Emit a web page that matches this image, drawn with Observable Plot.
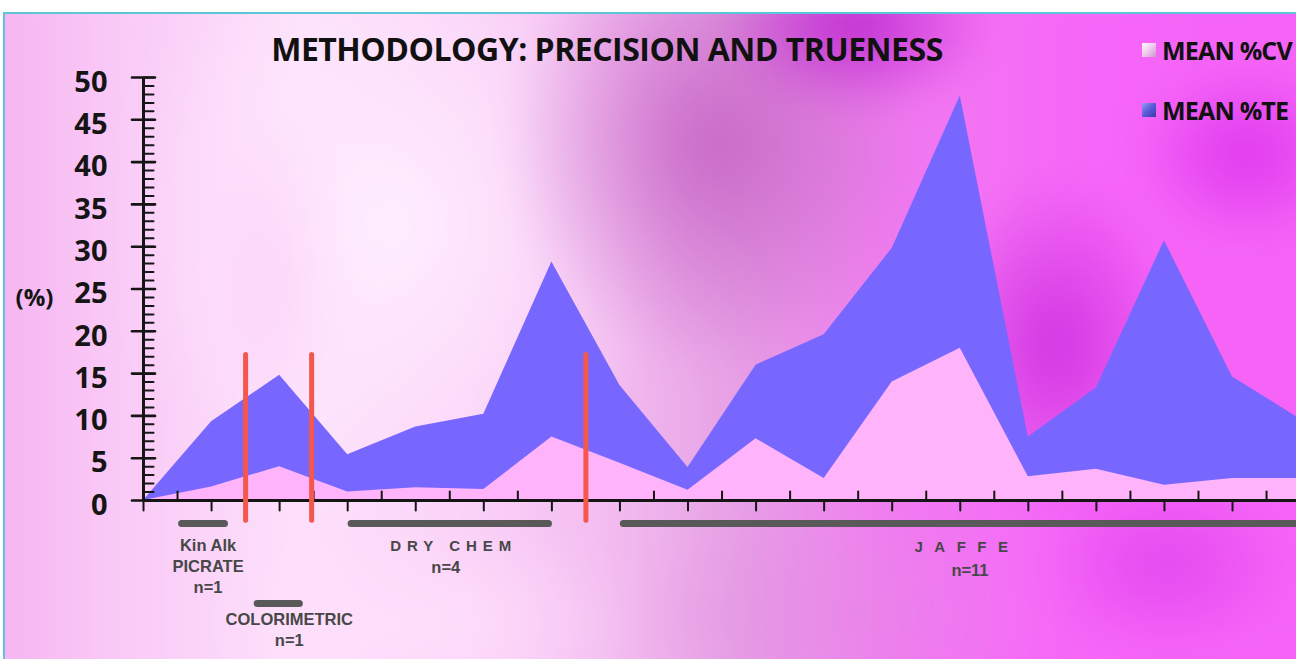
<!DOCTYPE html>
<html>
<head>
<meta charset="utf-8">
<script src="https://cdn.jsdelivr.net/npm/d3@7"></script>
<script src="https://cdn.jsdelivr.net/npm/@observablehq/plot@0.6"></script>
<style>
  html, body { margin: 0; padding: 0; background: #fff; overflow: hidden; }
  #wrap { position: relative; width: 1296px; height: 659px; overflow: hidden; background: #fff; }
  #frame { position: absolute; left: 3px; top: 12px; width: 1320px; height: 680px;
           border-left: 2px solid #5cc6d9; border-top: 2px solid #5cc6d9; overflow: hidden; }
  #bg { position: absolute; left: -40px; top: -40px; width: 1400px; height: 760px; filter: blur(18px);
    background:
      radial-gradient(140px 90px at 890px 50px, rgba(185,30,205,0.85), rgba(185,30,205,0)),
      radial-gradient(110px 90px at 1280px 180px, rgba(215,40,235,0.75), rgba(215,40,235,0)),
      radial-gradient(120px 170px at 1090px 370px, rgba(200,40,220,0.8), rgba(200,40,220,0)),
      radial-gradient(130px 90px at 1200px 590px, rgba(220,60,235,0.7), rgba(220,60,235,0)),
      radial-gradient(210px 230px at 750px 170px, rgba(195,95,195,0.85), rgba(195,95,195,0)),
      radial-gradient(200px 110px at 860px 640px, rgba(225,140,225,0.45), rgba(225,140,225,0)),
      radial-gradient(280px 320px at 430px 250px, rgba(255,238,255,0.95), rgba(255,238,255,0)),
      radial-gradient(220px 110px at 460px 650px, rgba(255,225,252,0.85), rgba(255,225,252,0)),
      radial-gradient(70px 160px at 315px 290px, rgba(246,170,238,0.7), rgba(246,170,238,0)),
      linear-gradient(to right, #f4aef0 0%, #f9c8f6 10%, #fde0fb 24%, #f9ccf6 38%, #f3bcf0 46%, #e6a0e4 55%, #f07cf0 66%, #f666f8 80%, #f462f6 100%);
  }
  #chart { position: absolute; left: 0; top: 0; }
  #title { position: absolute; left: 252px; top: 27px; width: 710px; text-align: center;
           font-family: "Open Sans", sans-serif; font-weight: 700; font-size: 32px; color: #111;
           letter-spacing: -0.5px; white-space: nowrap; }
  .leg { position: absolute; left: 1142px; font-family: "Open Sans", sans-serif; font-weight: 700;
         font-size: 25px; color: #111; white-space: nowrap; letter-spacing: -0.8px; }
  .leg span.sw { display: inline-block; width: 14px; height: 14px; margin-right: 6px; vertical-align: 3px; }
</style>
</head>
<body>
<div id="wrap">
  <div id="frame"><div id="bg"></div></div>
  <div id="chart"></div>
  <div id="title">METHODOLOGY: PRECISION AND TRUENESS</div>
  <div class="leg" style="top:33px"><span class="sw" style="background:linear-gradient(135deg,#fff 0%,#f0c8ee 50%,#c89ac8 100%)"></span>MEAN %CV</div>
  <div class="leg" style="top:93px"><span class="sw" style="background:linear-gradient(135deg,#9a9af0 0%,#5a5ad8 50%,#3a3aa8 100%)"></span>MEAN %TE</div>
</div>
<script>
// ---- data ----
const labs = d3.range(0, 18); // 0 = origin, 1..17 laboratories
const meanTE = [0, 9.3, 14.8, 5.4, 8.7, 10.2, 28.2, 13.6, 3.9, 16.0, 19.6, 29.8, 47.8, 7.5, 13.3, 30.7, 14.6, 9.6];
const meanCV = [0, 1.6, 4.0, 1.0, 1.5, 1.3, 7.5, 4.4, 1.2, 7.3, 2.6, 14.0, 18.0, 2.8, 3.7, 1.8, 2.6, 2.6];

const yTicks = d3.range(0, 51, 5);
const yMinorTicks = d3.range(0, 51, 1);
const xTicks = d3.range(0, 17);
const xMidTicks = d3.range(0.5, 17, 1);

// method groups (lab index ranges)
const groupNames = ["Kin Alk\nPICRATE\nn=1", "COLORIMETRIC\nn=1", "DRY CHEM", "JAFFE"];
const groupN = ["", "", "n=4", "n=11"];
const groupStart = [0.56, 1.67, 3.05, 7.05];
const groupEnd = [1.19, 2.29, 5.95, 17.5];
const separators = [1.5, 2.47, 6.5];

const rows = labs.map((i) => ({i, te: meanTE[i], cv: meanCV[i]}));

const line = {draw(context, l) { context.moveTo(0, 0); context.lineTo(0, -l); }};
const ink = "#151515";
const labelInk = "#474747";
const labelFont = "Liberation Sans, Arial, sans-serif";
const center = (k) => (groupStart[k] + Math.min(groupEnd[k], 17)) / 2;

const groupBar = (k, dy) => Plot.link([k], {
  x1: (d) => groupStart[d], x2: (d) => groupEnd[d], y1: 0, y2: 0, dy,
  stroke: "#595959", strokeWidth: 7, strokeLinecap: "round"
});
const groupText = (k, text, dy, dx, extra = {}) => Plot.text([k], {
  x: center, y: 0, text, dy, dx, lineAnchor: "top", fontSize: 16.5, fontWeight: 700,
  fontFamily: labelFont, fill: labelInk, lineHeight: 1.28, ...extra
});

const chart = Plot.plot({
  width: 1296,
  height: 659,
  marginLeft: 143,
  marginRight: 0,
  marginTop: 77,
  marginBottom: 159,
  style: {background: "transparent", overflow: "visible"},
  x: {domain: [0, 16.94], axis: null},
  y: {domain: [0, 50], axis: null},
  marks: [
    Plot.areaY(rows, {x: "i", y: "te", fill: "#7867ff", clip: true}),
    Plot.areaY(rows, {x: "i", y: "cv", fill: "#ffb3fa", clip: true}),
    // y axis
    Plot.ruleX([0], {y1: 0, y2: 50, stroke: ink, strokeWidth: 3}),
    Plot.vector(yMinorTicks, {x: 0, y: (d) => d, length: 10, rotate: 90, anchor: "start", shape: line, stroke: ink, strokeWidth: 2}),
    Plot.vector(yTicks, {x: 0, y: (d) => d, length: 23, rotate: 90, anchor: "middle", shape: line, stroke: ink, strokeWidth: 2.6}),
    Plot.text(yTicks, {x: 0, y: (d) => d, text: (d) => String(d), textAnchor: "end", dx: -36, dy: 5,
      fontSize: 29, fontWeight: 700, fontFamily: "Open Sans, sans-serif", fill: ink}),
    Plot.text(["(%)"], {x: 0, y: 25, text: (d) => d, textAnchor: "middle", dx: -109, dy: 9,
      fontSize: 24, fontWeight: 700, fontFamily: "Open Sans, sans-serif", fill: ink}),
    // x axis
    Plot.ruleY([0], {stroke: ink, strokeWidth: 3}),
    Plot.vector(xTicks, {x: (d) => d, y: 0, length: 10, rotate: 180, anchor: "start", shape: line, stroke: ink, strokeWidth: 2}),
    Plot.vector(xMidTicks, {x: (d) => d, y: 0, length: 9, rotate: 0, anchor: "start", shape: line, stroke: ink, strokeWidth: 2}),
    // method groups
    groupBar(0, 23), groupBar(1, 103), groupBar(2, 23), groupBar(3, 23),
    Plot.ruleX(separators, {y1: 17.2, y2: -2.4, stroke: "#f4584c", strokeWidth: 5, strokeLinecap: "round"}),
    groupText(0, (d) => groupNames[d], 35, 5),
    groupText(1, (d) => groupNames[d], 109, 11),
    groupText(2, (d) => groupNames[d], 37, 4, {fontSize: 15}),
    groupText(2, (d) => groupN[d], 57, -4),
    groupText(3, (d) => groupNames[d], 38, 5, {fontSize: 15}),
    groupText(3, (d) => groupN[d], 60, 8)
  ]
});

d3.select(chart).selectAll("text")
  .filter(function () { return this.textContent === "DRY CHEM"; })
  .attr("letter-spacing", "6px");
d3.select(chart).selectAll("text")
  .filter(function () { return this.textContent === "JAFFE"; })
  .attr("letter-spacing", "11.5px");

document.getElementById("chart").appendChild(chart);
</script>
</body>
</html>
